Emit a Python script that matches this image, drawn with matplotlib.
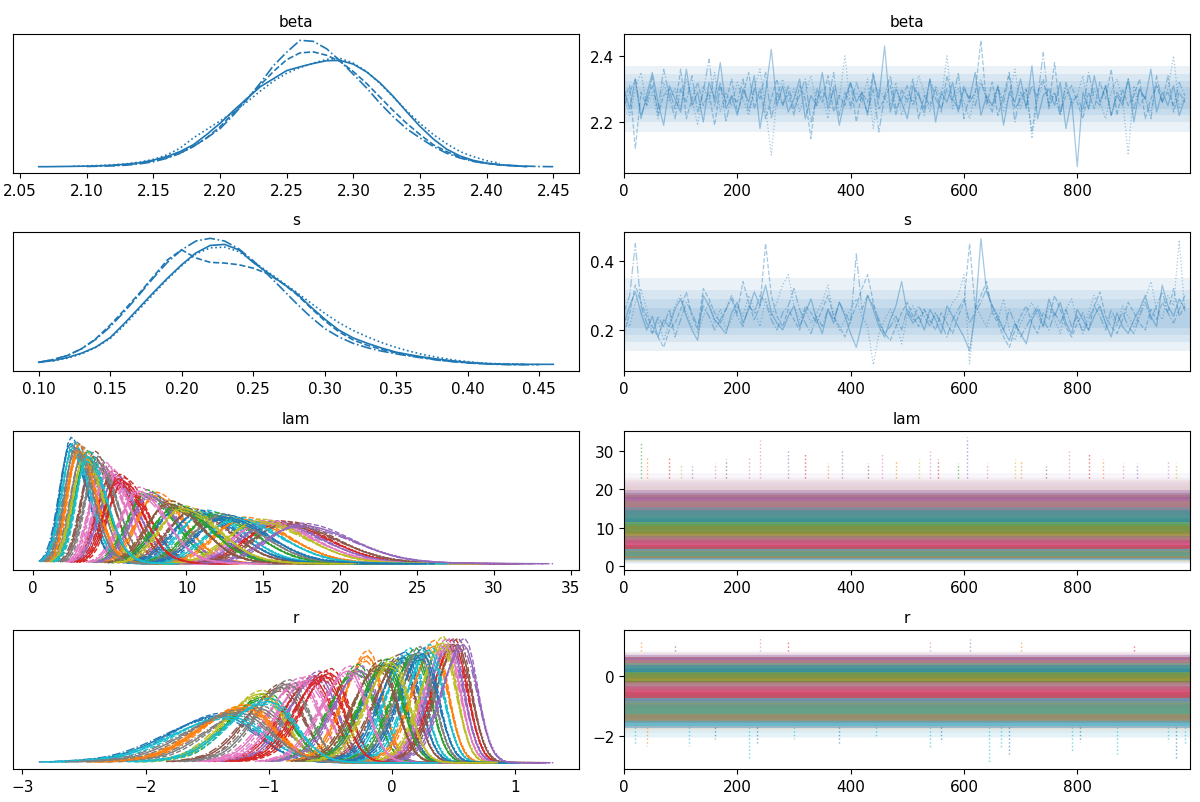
import numpy as np
import matplotlib
matplotlib.use("Agg")
import matplotlib.pyplot as plt

nan = np.nan

# chain line styles used by the trace plot (chain 0..3)
CHAIN_STYLES = ["-", "--", "-.", ":"]

# ---- beta: per-chain density (relative units) ----
BETA_GRID = np.r_[2.064, np.round(np.arange(2.07, 2.455, 0.01), 2)]
BETA_KDE = [
    [0.5, 0.5, 1, 1.5, 2, 3, 5, 8, 12, 20, 30, 45, 65, 95, 128, 165, 200, 235, 259, 283,
     294, 304, 312, 313, 302, 279, 247, 207, 162, 119, 82, 52, 32, 19, 11, 6, 3, 1, nan, nan],
    [nan, nan, nan, nan, nan, nan, 4, 7, 11, 18, 27, 40, 60, 85, 118, 158, 200, 240, 280, 315,
     335, 338, 328, 310, 280, 245, 205, 165, 128, 95, 65, 45, 28, 17, 10, 6, 3, 1, nan, nan],
    [nan, nan, nan, nan, 1, 2, 3, 5, 9, 15, 25, 40, 60, 85, 112, 152, 197, 245, 297, 337,
     372, 369, 347, 312, 272, 232, 187, 147, 112, 85, 60, 40, 26, 16, 10, 6, 4, 2, 1, 0.5],
    [nan, nan, nan, 2, 3, 4, 6, 9, 14, 22, 35, 55, 85, 110, 135, 160, 190, 222, 252, 275,
     292, 305, 316, 319, 305, 280, 245, 205, 165, 128, 95, 68, 45, 30, 18, 10, nan, nan, nan, nan],
]

# ---- s: per-chain density ----
S_GRID = np.round(np.arange(0.10, 0.465, 0.01), 2)
S_KDE = [
    [10, 15, 24, 37, 55, 83, 125, 170, 215, 258, 298, 333, 355, 358, 342, 305, 275, 245, 215,
     175, 138, 105, 82, 66, 52, 40, 32, 25, 19, 14, 10, 7, 5, 4, 4, 4, 4],
    [10, 18, 30, 50, 80, 120, 165, 212, 262, 312, 342, 318, 305, 303, 298, 288, 272, 245, 212,
     172, 133, 100, 76, 60, 48, 38, 30, 23, 17, 12, 9, 6, 5, 4, 4, nan, nan],
    [10, 18, 30, 50, 78, 115, 160, 208, 258, 305, 342, 368, 376, 368, 345, 310, 270, 228, 185,
     145, 110, 85, 66, 53, 43, 35, 28, 22, 16, 12, 8, 6, 4, 3, 3, 3, nan],
    [nan, 14, 22, 35, 54, 80, 120, 165, 210, 255, 295, 330, 348, 350, 337, 308, 278, 248, 218,
     186, 155, 127, 104, 85, 68, 54, 42, 32, 24, 17, 12, 8, 6, 5, 4, nan, nan],
]

# ---- traces, every 10th draw per chain ----
BETA_TRACE = [
    [2.30, 2.24, 2.33, 2.21, 2.28, 2.35, 2.26, 2.19, 2.31, 2.27,
     2.23, 2.36, 2.25, 2.29, 2.20, 2.32, 2.27, 2.38, 2.24, 2.28,
     2.22, 2.30, 2.26, 2.34, 2.18, 2.29, 2.42, 2.25, 2.31, 2.23,
     2.27, 2.33, 2.21, 2.28, 2.25, 2.35, 2.24, 2.30, 2.19, 2.27,
     2.32, 2.26, 2.29, 2.22, 2.34, 2.27, 2.43, 2.23, 2.30, 2.26,
     2.21, 2.31, 2.28, 2.24, 2.33, 2.20, 2.29, 2.26, 2.32, 2.23,
     2.30, 2.27, 2.35, 2.22, 2.28, 2.25, 2.31, 2.19, 2.29, 2.26,
     2.33, 2.24, 2.37, 2.21, 2.28, 2.30, 2.25, 2.32, 2.18, 2.27,
     2.065, 2.29, 2.24, 2.34, 2.26, 2.31, 2.22, 2.28, 2.25, 2.33,
     2.20, 2.30, 2.27, 2.36, 2.23, 2.29, 2.25, 2.31, 2.22, 2.27],
    [2.27, 2.31, 2.12, 2.29, 2.25, 2.34, 2.22, 2.28, 2.30, 2.24,
     2.36, 2.21, 2.27, 2.32, 2.25, 2.29, 2.19, 2.31, 2.26, 2.33,
     2.23, 2.28, 2.35, 2.24, 2.30, 2.21, 2.27, 2.33, 2.25, 2.29,
     2.22, 2.31, 2.27, 2.15, 2.30, 2.26, 2.34, 2.23, 2.28, 2.25,
     2.32, 2.20, 2.29, 2.26, 2.35, 2.24, 2.27, 2.31, 2.22, 2.30,
     2.26, 2.33, 2.21, 2.28, 2.25, 2.30, 2.23, 2.34, 2.27, 2.24,
     2.31, 2.26, 2.29, 2.447, 2.25, 2.32, 2.22, 2.28, 2.35, 2.24,
     2.27, 2.30, 2.17, 2.29, 2.33, 2.25, 2.38, 2.23, 2.28, 2.31,
     2.26, 2.21, 2.29, 2.24, 2.32, 2.27, 2.36, 2.22, 2.30, 2.25,
     2.28, 2.33, 2.21, 2.27, 2.31, 2.26, 2.34, 2.23, 2.29, 2.26],
    [2.25, 2.29, 2.33, 2.22, 2.27, 2.31, 2.24, 2.36, 2.28, 2.21,
     2.30, 2.26, 2.34, 2.23, 2.29, 2.39, 2.25, 2.32, 2.20, 2.28,
     2.26, 2.33, 2.23, 2.30, 2.27, 2.35, 2.21, 2.29, 2.25, 2.31,
     2.24, 2.28, 2.33, 2.20, 2.27, 2.30, 2.26, 2.35, 2.22, 2.29,
     2.25, 2.32, 2.27, 2.23, 2.30, 2.17, 2.28, 2.34, 2.24, 2.27,
     2.31, 2.25, 2.29, 2.22, 2.33, 2.27, 2.24, 2.30, 2.26, 2.35,
     2.21, 2.28, 2.25, 2.32, 2.27, 2.23, 2.30, 2.26, 2.34, 2.20,
     2.29, 2.25, 2.31, 2.27, 2.41, 2.24, 2.29, 2.22, 2.32, 2.26,
     2.28, 2.23, 2.35, 2.27, 2.25, 2.31, 2.22, 2.29, 2.26, 2.33,
     2.24, 2.30, 2.27, 2.21, 2.34, 2.26, 2.29, 2.25, 2.32, 2.28],
    [2.28, 2.22, 2.30, 2.35, 2.25, 2.29, 2.21, 2.32, 2.26, 2.30,
     2.24, 2.33, 2.27, 2.19, 2.31, 2.26, 2.35, 2.23, 2.29, 2.25,
     2.32, 2.27, 2.22, 2.30, 2.36, 2.24, 2.10, 2.28, 2.33, 2.26,
     2.30, 2.23, 2.29, 2.34, 2.25, 2.28, 2.21, 2.31, 2.27, 2.40,
     2.24, 2.29, 2.26, 2.33, 2.18, 2.30, 2.27, 2.25, 2.32, 2.22,
     2.28, 2.26, 2.34, 2.29, 2.23, 2.31, 2.27, 2.40, 2.24, 2.30,
     2.26, 2.21, 2.29, 2.33, 2.27, 2.25, 2.31, 2.23, 2.28, 2.36,
     2.24, 2.30, 2.15, 2.27, 2.32, 2.26, 2.29, 2.22, 2.31, 2.25,
     2.28, 2.34, 2.24, 2.30, 2.26, 2.21, 2.29, 2.33, 2.27, 2.10,
     2.31, 2.25, 2.28, 2.23, 2.32, 2.26, 2.30, 2.40, 2.24, 2.28],
]

S_TRACE = [
    [0.22, 0.27, 0.31, 0.25, 0.20, 0.24, 0.18, 0.23, 0.21, 0.26,
     0.29, 0.24, 0.20, 0.17, 0.30, 0.27, 0.23, 0.21, 0.19, 0.25,
     0.28, 0.22, 0.26, 0.31, 0.27, 0.33, 0.25, 0.22, 0.20, 0.24,
     0.27, 0.21, 0.25, 0.29, 0.23, 0.19, 0.26, 0.22, 0.28, 0.24,
     0.19, 0.15, 0.22, 0.30, 0.26, 0.21, 0.18, 0.23, 0.27, 0.34,
     0.25, 0.22, 0.24, 0.20, 0.26, 0.23, 0.19, 0.27, 0.24, 0.21,
     0.18, 0.14, 0.25, 0.465, 0.31, 0.27, 0.24, 0.20, 0.17, 0.22,
     0.19, 0.16, 0.23, 0.26, 0.21, 0.29, 0.24, 0.28, 0.22, 0.19,
     0.26, 0.23, 0.20, 0.24, 0.27, 0.22, 0.18, 0.25, 0.21, 0.19,
     0.23, 0.26, 0.30, 0.24, 0.21, 0.33, 0.27, 0.24, 0.29, 0.26],
    [0.19, 0.25, 0.33, 0.28, 0.24, 0.21, 0.18, 0.15, 0.20, 0.22,
     0.26, 0.31, 0.24, 0.20, 0.32, 0.29, 0.25, 0.22, 0.26, 0.30,
     0.25, 0.34, 0.28, 0.23, 0.27, 0.45, 0.30, 0.24, 0.21, 0.26,
     0.23, 0.20, 0.27, 0.25, 0.22, 0.26, 0.30, 0.24, 0.21, 0.18,
     0.23, 0.27, 0.32, 0.36, 0.28, 0.22, 0.19, 0.17, 0.21, 0.25,
     0.28, 0.24, 0.21, 0.26, 0.23, 0.20, 0.25, 0.22, 0.19, 0.24,
     0.28, 0.45, 0.26, 0.30, 0.34, 0.25, 0.22, 0.18, 0.15, 0.20,
     0.24, 0.27, 0.22, 0.19, 0.25, 0.23, 0.30, 0.26, 0.21, 0.18,
     0.22, 0.25, 0.20, 0.27, 0.31, 0.24, 0.21, 0.19, 0.23, 0.28,
     0.25, 0.22, 0.20, 0.26, 0.23, 0.28, 0.25, 0.32, 0.24, 0.27],
    [0.25, 0.30, 0.45, 0.27, 0.22, 0.19, 0.24, 0.21, 0.26, 0.18,
     0.23, 0.28, 0.25, 0.21, 0.27, 0.24, 0.20, 0.23, 0.26, 0.29,
     0.24, 0.21, 0.27, 0.25, 0.30, 0.28, 0.23, 0.20, 0.25, 0.27,
     0.32, 0.26, 0.22, 0.19, 0.24, 0.21, 0.26, 0.23, 0.28, 0.25,
     0.22, 0.42, 0.26, 0.30, 0.27, 0.23, 0.19, 0.21, 0.24, 0.20,
     0.26, 0.23, 0.27, 0.24, 0.21, 0.25, 0.22, 0.18, 0.23, 0.26,
     0.29, 0.22, 0.25, 0.28, 0.32, 0.27, 0.23, 0.20, 0.26, 0.22,
     0.18, 0.21, 0.24, 0.27, 0.23, 0.20, 0.25, 0.22, 0.26, 0.21,
     0.24, 0.19, 0.23, 0.27, 0.24, 0.20, 0.26, 0.22, 0.25, 0.21,
     0.19, 0.24, 0.28, 0.23, 0.27, 0.31, 0.25, 0.22, 0.26, 0.30],
    [0.24, 0.21, 0.28, 0.32, 0.26, 0.19, 0.23, 0.17, 0.22, 0.27,
     0.30, 0.25, 0.21, 0.19, 0.24, 0.28, 0.22, 0.26, 0.20, 0.23,
     0.27, 0.24, 0.30, 0.26, 0.21, 0.29, 0.24, 0.28, 0.33, 0.36,
     0.27, 0.23, 0.26, 0.22, 0.25, 0.28, 0.33, 0.24, 0.20, 0.23,
     0.26, 0.29, 0.24, 0.21, 0.10, 0.19, 0.23, 0.26, 0.22, 0.16,
     0.24, 0.27, 0.23, 0.26, 0.22, 0.25, 0.21, 0.24, 0.28, 0.30,
     0.36, 0.102, 0.27, 0.24, 0.21, 0.26, 0.23, 0.29, 0.20, 0.17,
     0.22, 0.25, 0.28, 0.24, 0.21, 0.27, 0.23, 0.19, 0.26, 0.29,
     0.23, 0.20, 0.25, 0.30, 0.26, 0.22, 0.24, 0.21, 0.27, 0.24,
     0.21, 0.25, 0.29, 0.34, 0.26, 0.23, 0.30, 0.27, 0.46, 0.25],
]
TRACE_STEP = 10
N_DRAWS = 1000

# where the bulk of the draws sits in the beta / s trace panels (outer to inner)
BETA_TRACE_BANDS = [(2.17, 2.37), (2.20, 2.345), (2.22, 2.325), (2.24, 2.305)]
S_TRACE_BANDS = [(0.14, 0.35), (0.165, 0.315), (0.185, 0.29), (0.205, 0.265)]

# ---- r and lam: one entry per element (40), peak location and spread ----
R_LOC = [-1.38, -1.18, -1.02, -0.64, -0.60, -0.90, -0.75, -1.10, -1.06, -1.32,
         -0.03, -0.20, -0.28, -0.50, -0.25, 0.06, -0.68, -0.84, -0.10, 0.14,
         0.10, 0.34, 0.19, 0.50, 0.47, 0.53, 0.44, 0.22, 0.41, 0.30,
         0.25, -1.20, -0.05, -0.55, 0.58, -0.10, -0.35, -1.25, 0.00, -1.00]
R_SD = [0.35, 0.30, 0.25, 0.20, 0.19, 0.22, 0.205, 0.30, 0.24, 0.36,
        0.168, 0.155, 0.177, 0.185, 0.18, 0.16, 0.20, 0.21, 0.17, 0.152,
        0.157, 0.142, 0.152, 0.14, 0.14, 0.14, 0.14, 0.15, 0.138, 0.147,
        0.152, 0.30, 0.168, 0.19, 0.14, 0.17, 0.18, 0.33, 0.165, 0.27]
LAM_LOC = [2.44, 2.97, 3.49, 5.10, 5.31, 3.94, 4.57, 3.22, 3.35, 2.59,
           9.39, 7.93, 7.32, 5.87, 7.54, 10.28, 4.90, 4.18, 8.76, 11.13,
           10.70, 13.6, 11.7, 15.9, 15.5, 16.4, 15.0, 12.1, 14.6, 13.1,
           12.4, 2.91, 9.2, 5.58, 17.3, 8.76, 6.82, 2.77, 9.68, 3.56]
LAM_SD = [0.85, 0.9, 0.95, 1.15, 1.2, 0.95, 1.05, 0.92, 0.95, 0.88,
          1.85, 1.5, 1.45, 1.25, 1.5, 1.95, 1.1, 1.0, 1.7, 2.0,
          2.0, 2.3, 2.1, 2.5, 2.5, 2.55, 2.45, 2.15, 2.4, 2.3,
          2.2, 0.9, 1.8, 1.2, 2.65, 1.7, 1.4, 0.88, 1.85, 0.95]

# small chain-to-chain differences (in units of each element's spread)
CHAIN_LOC_SHIFT = [0.0, 0.06, -0.05, 0.03]
CHAIN_SD_SCALE = [1.0, 0.95, 1.05, 1.02]

# density shapes (peak = 1)
R_PROFILE_Z = np.arange(-4.0, 5.01, 0.25)
R_PROFILE = [0.015, 0.024, 0.035, 0.05, 0.07, 0.095, 0.135, 0.198,
             0.278, 0.375, 0.487, 0.607, 0.726, 0.835, 0.923, 0.980, 1.0,
             0.952, 0.822, 0.644, 0.458, 0.295, 0.172, 0.091, 0.044, 0.019, 0.008,
             0.003, 0.001, 0.0005, 0.0003, 0.0002, 0.0001, 0.00008, 0.00005,
             0.00003, 0.00002]
LAM_PROFILE_Z = np.arange(-2.25, 6.01, 0.25)
LAM_PROFILE = [0.019, 0.044, 0.091, 0.172, 0.295, 0.458, 0.644, 0.822, 0.952, 1.0,
               0.982, 0.929, 0.847, 0.744, 0.630, 0.514, 0.404, 0.306, 0.224, 0.157,
               0.110, 0.075, 0.052, 0.035, 0.024, 0.015, 0.010, 0.006, 0.004, 0.002,
               0.0015, 0.001, 0.0006, 0.0003]

# band of each element in the trace panel (spreads below / above the peak)
R_BAND = (2.0, 2.0)
LAM_BAND = (2.2, 2.6)
CORE_BAND = 1.0

# isolated excursions visible in the trace panels
LAM_SPIKE_ITER = [30, 40, 80, 100, 120, 160, 180, 220, 240, 290, 320, 360, 385, 430, 455, 480,
                  520, 540, 555, 590, 605, 640, 690, 700, 745, 785, 820, 845, 880, 905, 960, 975]
LAM_SPIKE_TOP = [32.0, 28.5, 28.5, 26.5, 26.0, 27.0, 28.0, 28.5, 33.0, 30.5, 29.5, 27.0, 30.5,
                 27.0, 29.5, 27.5, 28.0, 30.0, 28.0, 27.0, 33.6, 27.0, 28.0, 27.5, 26.0, 30.0,
                 29.5, 28.0, 27.0, 27.0, 27.5, 27.0]
LAM_SPIKE_COLOR = ["C2", "C1", "C3", "C8", "C4", "C6", "C5", "C6", "C6", "C4", "C3", "C1",
                   "C4", "C5", "C6", "C1", "C8", "C6", "C3", "C2", "C4", "C6", "C8", "C1",
                   "C5", "C6", "C3", "C1", "C6", "C4", "C6", "C8"]
LAM_SPIKE_BASE = 23.0
R_LOW_ITER = [20, 40, 115, 160, 220, 235, 300, 380, 445, 540, 560, 645, 665, 680, 790, 805,
              870, 960, 975, 990]
R_LOW_VALUE = [-2.3, -2.35, -2.35, -2.1, -2.75, -2.25, -2.1, -2.25, -2.0, -2.45, -2.2, -2.9,
               -2.45, -2.6, -2.5, -2.2, -2.6, -2.2, -2.75, -2.3]
R_LOW_COLOR = ["C9", "C1", "C9", "C0", "C9", "C0", "C9", "C0", "C9", "C9", "C0", "C9",
               "C9", "C0", "C9", "C0", "C9", "C9", "C0", "C9"]
R_LOW_BASE = -1.7
R_HIGH_ITER = [30, 90, 240, 290, 540, 610, 700, 900]
R_HIGH_VALUE = [1.15, 1.1, 1.35, 1.15, 1.2, 1.25, 1.15, 1.1]
R_HIGH_COLOR = ["C1", "C5", "C6", "C3", "C6", "C4", "C1", "C3"]
R_HIGH_BASE = 0.85

VAR_NAMES = ["beta", "s", "lam", "r"]

# ---------------------------------------------------------------------------
W, H = 1200, 803
fig = plt.figure(figsize=(W / 100, H / 100), dpi=100)
col_left = [13, 624]
col_width = 566
row_top = [35, 233, 432, 631]
row_height = 139

axes = []
for r in range(4):
    row = []
    for c in range(2):
        ax = fig.add_axes([col_left[c] / W, 1 - (row_top[r] + row_height) / H,
                           col_width / W, row_height / H])
        ax.tick_params(labelsize=11)
        ax.set_title(VAR_NAMES[r], fontsize=11)
        row.append(ax)
    axes.append(row)

# beta / s densities and traces
for r, (grid, kde, trace, bands) in enumerate([(BETA_GRID, BETA_KDE, BETA_TRACE, BETA_TRACE_BANDS),
                                                (S_GRID, S_KDE, S_TRACE, S_TRACE_BANDS)]):
    ax_kde, ax_tr = axes[r]
    for lo, hi in bands:
        ax_tr.fill_between([0, N_DRAWS - 1], lo, hi, color="C0", alpha=0.09, lw=0)
    for c in range(4):
        ax_kde.plot(grid, kde[c], color="C0", ls=CHAIN_STYLES[c], lw=1.2)
        it = np.arange(len(trace[c])) * TRACE_STEP
        ax_tr.plot(it, trace[c], color="C0", ls=CHAIN_STYLES[c], lw=0.9, alpha=0.4)

# lam / r densities
n_el = len(R_LOC)
for r, (locs, sds, pz, prof) in [(2, (LAM_LOC, LAM_SD, LAM_PROFILE_Z, LAM_PROFILE)),
                                  (3, (R_LOC, R_SD, R_PROFILE_Z, R_PROFILE))]:
    ax = axes[r][0]
    prof = np.array(prof)
    for i in range(n_el):
        for c in range(4):
            loc = locs[i] + CHAIN_LOC_SHIFT[c] * sds[i]
            sd = sds[i] * CHAIN_SD_SCALE[c]
            ax.plot(loc + pz * sd, prof / sd, color=f"C{i % 10}",
                    ls=CHAIN_STYLES[c], lw=1.0)

# lam / r trace bands: faint full range, stronger core
for r, (locs, sds, band) in [(2, (LAM_LOC, LAM_SD, LAM_BAND)),
                             (3, (R_LOC, R_SD, R_BAND))]:
    ax = axes[r][1]
    for i in range(n_el):
        ax.fill_between([0, N_DRAWS - 1], locs[i] - band[0] * sds[i], locs[i] + band[1] * sds[i],
                        color=f"C{i % 10}", alpha=0.06, lw=0)
    for i in range(n_el):
        ax.fill_between([0, N_DRAWS - 1], locs[i] - CORE_BAND * sds[i],
                        locs[i] + CORE_BAND * sds[i], color=f"C{i % 10}", alpha=0.35, lw=0)

axes[2][1].vlines(LAM_SPIKE_ITER, LAM_SPIKE_BASE, LAM_SPIKE_TOP, colors=LAM_SPIKE_COLOR,
                  linestyles=":", lw=1.0, alpha=0.6)
axes[3][1].vlines(R_LOW_ITER, R_LOW_BASE, R_LOW_VALUE, colors=R_LOW_COLOR,
                  linestyles=":", lw=1.0, alpha=0.6)
axes[3][1].vlines(R_HIGH_ITER, R_HIGH_BASE, R_HIGH_VALUE, colors=R_HIGH_COLOR,
                  linestyles=":", lw=1.0, alpha=0.6)

for r in range(4):
    axes[r][0].set_yticks([])
    axes[r][1].set_xlim(0, N_DRAWS - 1)

fig.savefig("out.png", dpi=100)
